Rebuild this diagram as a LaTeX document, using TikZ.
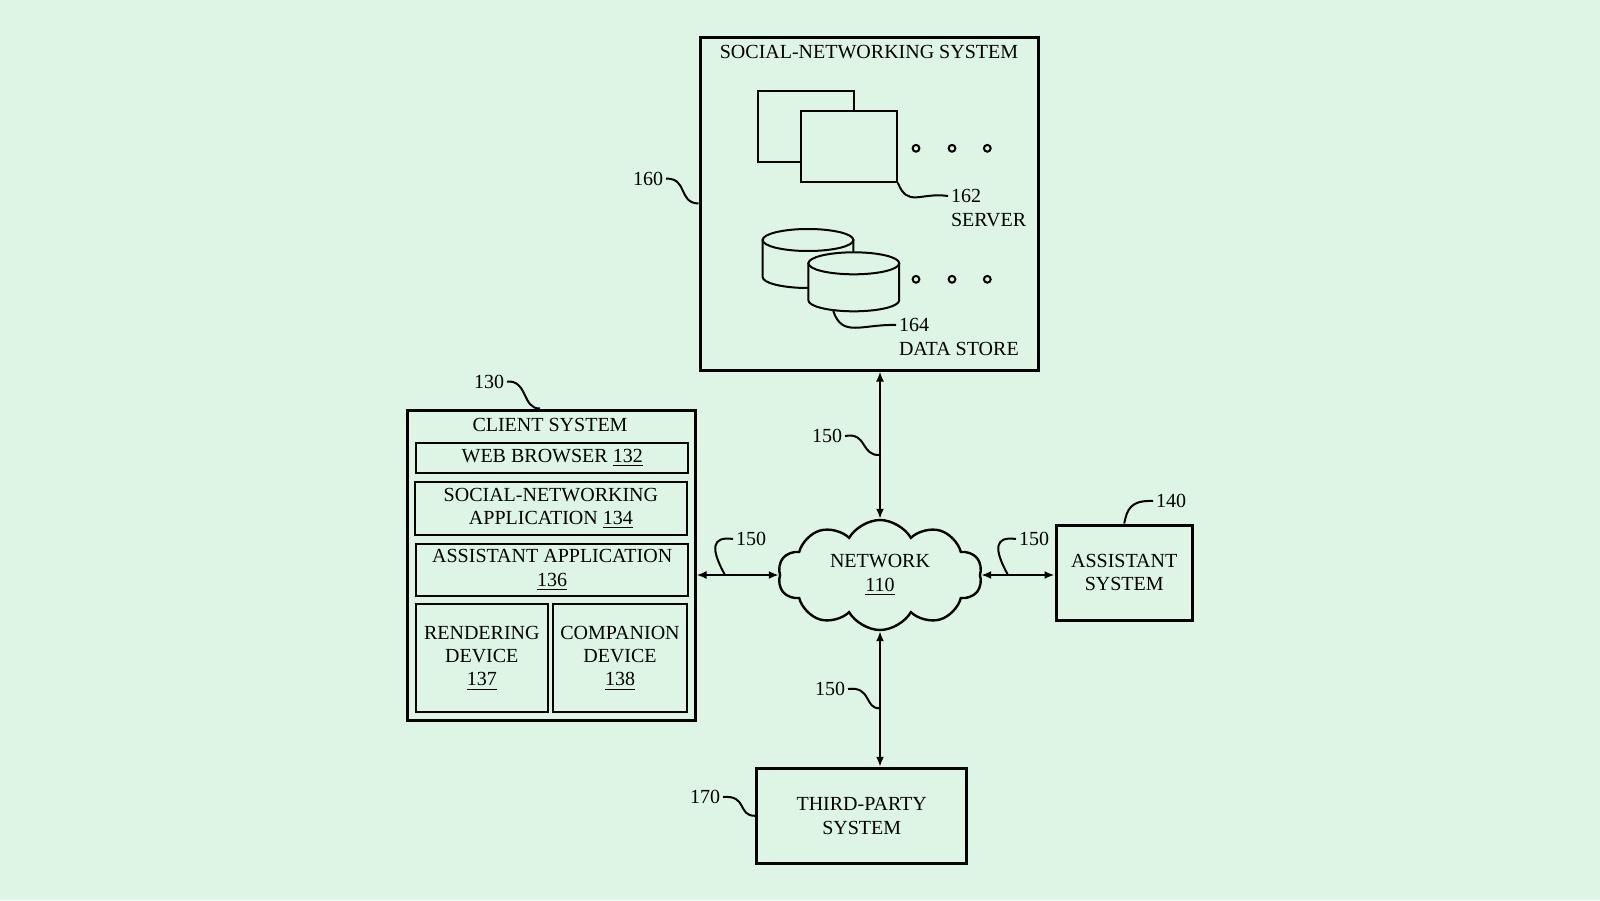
\documentclass[tikz,border=0pt]{standalone}
\usepackage{fontspec}
\setmainfont{Liberation Serif}
\usetikzlibrary{shapes.symbols,arrows.meta}
\definecolor{bg}{RGB}{222,245,229}

\begin{document}
\begin{tikzpicture}[x=0.5pt, y=-0.5pt, line width=1pt, >={Latex[length=5pt,width=4pt]},
  font=\fontsize{10}{11.7}\selectfont,
  bigbox/.style={draw, line width=1.5pt, inner sep=0pt, align=center},
  smallbox/.style={draw, line width=1pt, inner sep=0pt, align=center},
  num/.style={inner sep=1pt}]

\fill[bg] (0,0) rectangle (1600,900);
\useasboundingbox (0,0) rectangle (1600,900);

% social-networking system
\node (sns) [bigbox, minimum width=169pt, minimum height=166.5pt] at (869,203.5) {};
\node (snstitle) at (869,52) {SOCIAL-NETWORKING SYSTEM};

\node (srv1) [smallbox, fill=bg, minimum width=47.85pt, minimum height=35.5pt] at (806.2,126.2) {};
\node (srv2) [smallbox, fill=bg, minimum width=47.85pt, minimum height=35.5pt] at (848.9,146.2) {};

\foreach \cx/\cy in {808/240, 853.8/263.3} {
  \filldraw[fill=bg] (\cx-45.4,\cy) -- (\cx-45.4,\cy+37)
    arc[start angle=180, end angle=360, x radius=22.7pt, y radius=5.5pt] -- (\cx+45.4,\cy) -- cycle;
  \filldraw[fill=bg] (\cx,\cy) ellipse[x radius=22.7pt, y radius=5.5pt];
}
\coordinate (dbend) at (833.3,311);

\foreach \dy in {148.3, 279.3}
  \foreach \dx in {916, 952, 987.3}
    \draw (\dx,\dy) circle[radius=1.7pt];

\node (l162) [num, anchor=west] at (948,196) {162};
\node (tsrv) [num, anchor=west] at (948,220) {SERVER};
\node (l164) [num, anchor=west] at (896,325) {164};
\node (tdb) [num, anchor=west] at (896,349) {DATA STORE};
\node (l160) [num, anchor=east] at (666,178.6) {160};

\draw (srv2.south east) .. controls (908,208) and (920,192) .. (l162.west);
\draw (dbend) .. controls (842,338) and (862,324) .. (l164.west);
\draw (l160.east) .. controls (688,178) and (678,203) .. (sns.west);

% client system
\node (client) [bigbox, minimum width=143.85pt, minimum height=155pt] at (551.2,565) {};
\node (clienttitle) at (550,425) {CLIENT SYSTEM};
\node (web) [smallbox, minimum width=136.2pt, minimum height=15pt] at (552.2,458.3) {WEB BROWSER \underline{132}};
\node (snapp) [smallbox, minimum width=135.8pt, minimum height=26.7pt] at (550.9,508.3) {SOCIAL-NETWORKING\\APPLICATION \underline{134}};
\node (asapp) [smallbox, minimum width=136.2pt, minimum height=25.8pt] at (552.2,569.8) {ASSISTANT APPLICATION\\\underline{136}};
\node (render) [smallbox, minimum width=65.8pt, minimum height=53.7pt] at (481.8,658) {RENDERING\\DEVICE\\\underline{137}};
\node (comp) [smallbox, minimum width=66.7pt, minimum height=53.7pt] at (620,658) {COMPANION\\DEVICE\\\underline{138}};

\node (l130) [num, anchor=east] at (507,381.5) {130};
\draw (l130.east) .. controls (528,380) and (522,409) .. ([xshift=-5.6pt]client.north);

% network
\node (net) [draw, shape=cloud, cloud puffs=10, cloud puff arc=120, aspect=1.85,
  minimum width=102pt, minimum height=55pt, inner sep=0pt, line width=1.2pt, align=center]
  at (880,575) {NETWORK\\\underline{110}};

% assistant system
\node (assist) [bigbox, minimum width=68.2pt, minimum height=47.5pt] at (1124.2,572.5) {ASSISTANT\\SYSTEM};
\node (l140) [num, anchor=west] at (1153,501) {140};
\draw (l140.west) .. controls (1130,500) and (1127,510) .. (assist.north);

% third-party system
\node (third) [bigbox, minimum width=105pt, minimum height=47.5pt] at (861.7,815.8) {THIRD-PARTY\\SYSTEM};
\node (l170) [num, anchor=east] at (723,797) {170};
\draw (l170.east) .. controls (748,795) and (737,816) .. (third.west);

% links
\draw[<->] (client.east |- net.west) -- (net.west);
\draw[<->] (net.east) -- (assist.west |- net.east);
\draw[<->] (net.north |- sns.south) -- (net.north);
\draw[<->] (net.south) -- (net.south |- third.north);

\coordinate (j1) at (880,455);
\coordinate (j2) at (725,575);
\coordinate (j3) at (1008,575);
\coordinate (j4) at (880,708.3);

\node (l150a) [num, anchor=east] at (845,436) {150};
\node (l150b) [num, anchor=west] at (733,539) {150};
\node (l150c) [num, anchor=west] at (1016,539) {150};
\node (l150d) [num, anchor=east] at (848,689) {150};

\draw (l150a.east) .. controls (868,432) and (860,456) .. (j1);
\draw (j2) .. controls (710,548) and (712,536) .. (l150b.west);
\draw (j3) .. controls (993,548) and (995,536) .. (l150c.west);
\draw (l150d.east) .. controls (872,686) and (864,709) .. (j4);

\end{tikzpicture}
\end{document}
